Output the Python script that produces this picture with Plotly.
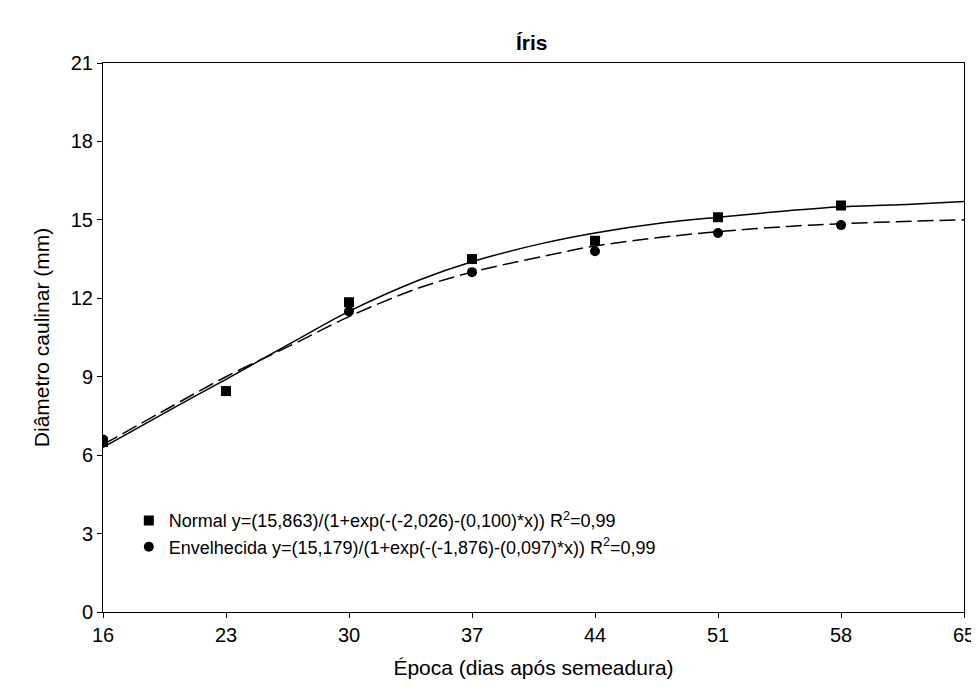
import plotly.graph_objects as go

# observed points
epoca = [16, 23, 30, 37, 44, 51, 58]
normal = [6.5, 8.45, 11.85, 13.5, 14.2, 15.1, 15.55]
envelhecida = [6.6, 8.45, 11.5, 13.0, 13.8, 14.5, 14.8]

# fitted curves
curva_x = [16, 20, 23, 27, 30, 34, 37, 41, 44, 48, 51, 55, 58, 62, 65]
curva_normal = [6.3, 7.8, 8.9, 10.4, 11.5, 12.7, 13.4, 14.1, 14.5, 14.9, 15.1, 15.35, 15.5, 15.6, 15.7]
curva_env = [6.4, 7.9, 9.0, 10.3, 11.3, 12.4, 13.0, 13.6, 14.0, 14.35, 14.55, 14.75, 14.85, 14.95, 15.0]

fig = go.Figure()
fig.add_trace(go.Scatter(x=curva_x, y=curva_normal, mode="lines", line=dict(color="black", width=1.5, shape="spline"),
                         showlegend=False))
fig.add_trace(go.Scatter(x=curva_x, y=curva_env, mode="lines",
                         line=dict(color="black", width=1.5, dash="16px,6px", shape="spline"), showlegend=False))
fig.add_trace(go.Scatter(x=epoca, y=normal, mode="markers", marker=dict(symbol="square", size=10, color="black"),
                         name="Normal y=(15,863)/(1+exp(-(-2,026)-(0,100)*x)) R<sup>2</sup>=0,99"))
fig.add_trace(go.Scatter(x=epoca, y=envelhecida, mode="markers", marker=dict(symbol="circle", size=10, color="black"),
                         name="Envelhecida y=(15,179)/(1+exp(-(-1,876)-(0,097)*x)) R<sup>2</sup>=0,99"))

ax = dict(showgrid=False, zeroline=False, showline=True, mirror=True, linecolor="black", linewidth=1,
          ticks="outside", tickcolor="black", ticklen=5, tickfont=dict(size=20, color="black"))
fig.update_layout(
    width=979, height=694, plot_bgcolor="white", paper_bgcolor="white",
    font=dict(family="Liberation Sans, Arial", color="black"),
    title=dict(text="<b>Íris</b>", x=0.535, y=0.96, xanchor="center", font=dict(size=21)),
    margin=dict(l=95, r=17, t=55, b=90),
    xaxis=dict(ax, range=[16, 65], tickvals=[16, 23, 30, 37, 44, 51, 58, 65],
               title=dict(text="Época (dias após semeadura)", font=dict(size=21))),
    yaxis=dict(ax, range=[0, 21], tickvals=list(range(0, 22, 3)),
               title=dict(text="Diâmetro caulinar (mm)", font=dict(size=21))),
    legend=dict(x=0.03, y=0.2, xanchor="left", yanchor="top", bgcolor="rgba(0,0,0,0)",
                font=dict(size=18), itemwidth=30),
)
fig.write_html("out.html")
